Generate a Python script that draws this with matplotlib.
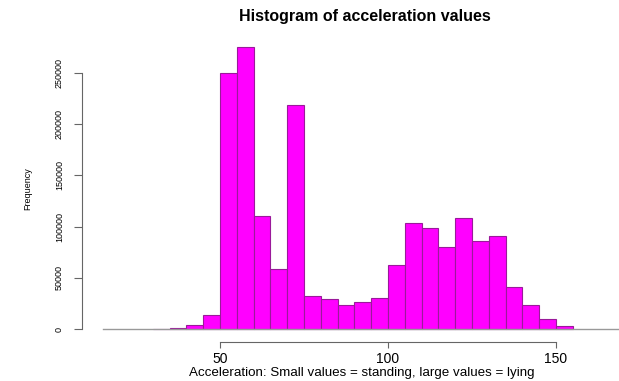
import matplotlib.pyplot as plt

# bin edges (width 5) and counts
bin_left = [30, 35, 40, 45, 50, 55, 60, 65, 70, 75, 80, 85, 90, 95, 100,
            105, 110, 115, 120, 125, 130, 135, 140, 145, 150]
counts = [300, 1300, 3800, 14000, 249700, 275700, 110600, 58600, 218500, 32200,
          29600, 23700, 26000, 30600, 62500, 103800, 98600, 80400, 108000, 86200,
          90800, 40700, 23100, 9500, 2900]
bin_width = 5
x_ticks = [50, 100, 150]
y_ticks = [0, 50000, 100000, 150000, 200000, 250000]

plt.rcParams['font.family'] = ['Liberation Sans', 'DejaVu Sans']

fig = plt.figure(figsize=(6.19, 3.81), dpi=100)
ax = fig.add_axes([0.1325, 0.1031, 0.8675, 0.805])

ax.bar(bin_left, counts, width=bin_width, align='edge',
       color='#ff00ff', edgecolor='#9a1a9a', linewidth=0.8)
ax.plot([15, 168.5], [0, 0], color='#999999', linewidth=1)

ax.set_xlim(8.9, 168.75)
ax.set_ylim(-12400, 287000)

for s in ['top', 'right']:
    ax.spines[s].set_visible(False)
ax.spines['left'].set_bounds(0, 250000)
ax.spines['bottom'].set_bounds(50, 150)
for s in ['left', 'bottom']:
    ax.spines[s].set_color('#666666')
    ax.spines[s].set_linewidth(0.8)

ax.set_xticks(x_ticks)
ax.set_yticks(y_ticks)
ax.set_yticklabels([str(v) for v in y_ticks], rotation=90, va='center', fontsize=6.5)
ax.tick_params(axis='x', length=4, pad=3.5, labelsize=10, color='#666666')
ax.tick_params(axis='y', length=6, pad=7, color='#666666')

ax.set_ylabel('Frequency', fontsize=6.5, labelpad=16)
fig.text(0.585, 0.021, 'Acceleration: Small values = standing, large values = lying',
         fontsize=9.6, ha='center', va='center')
fig.text(0.59, 0.958, 'Histogram of acceleration values', fontsize=11.5,
         fontweight='bold', ha='center', va='center')

fig.savefig('out.png', dpi=100)
